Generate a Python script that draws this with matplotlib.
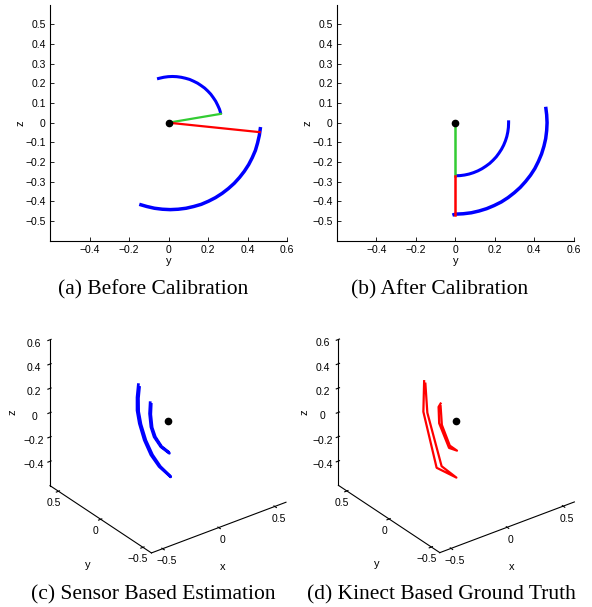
import numpy as np
import matplotlib
matplotlib.use("Agg")
import matplotlib.pyplot as plt
from mpl_toolkits.mplot3d import Axes3D  # noqa: F401

plt.rcParams["font.family"] = ["Liberation Sans", "DejaVu Sans"]

# (a) before calibration, (y, z) points
a_arc1_y = [-0.058, -0.046, -0.024, -0.002, 0.020, 0.042, 0.064, 0.086, 0.107, 0.127, 0.147,
            0.165, 0.183, 0.199, 0.214, 0.227, 0.239, 0.249, 0.258, 0.262, 0.265]
a_arc1_z = [0.223, 0.226, 0.231, 0.234, 0.235, 0.234, 0.231, 0.226, 0.220, 0.211, 0.201,
            0.189, 0.176, 0.161, 0.145, 0.127, 0.109, 0.089, 0.069, 0.056, 0.043]
a_arc2_y = [0.466, 0.460, 0.451, 0.440, 0.424, 0.406, 0.384, 0.360, 0.333, 0.303, 0.272,
            0.238, 0.203, 0.166, 0.128, 0.089, 0.049, 0.009, -0.031, -0.071, -0.110, -0.148]
a_arc2_z = [-0.022, -0.064, -0.103, -0.141, -0.178, -0.213, -0.247, -0.278, -0.308, -0.335, -0.359,
            -0.381, -0.399, -0.415, -0.426, -0.435, -0.440, -0.442, -0.440, -0.435, -0.426, -0.415]
a_green = ([0.0, 0.265], [0.0, 0.045])
a_red = ([0.0, 0.462], [0.0, -0.048])

# (b) after calibration
b_arc1_y = [0.0, 0.024, 0.047, 0.070, 0.092, 0.114, 0.135, 0.155, 0.174, 0.191, 0.207,
            0.221, 0.234, 0.245, 0.254, 0.261, 0.266, 0.269, 0.270, 0.270]
b_arc1_z = [-0.270, -0.269, -0.266, -0.261, -0.254, -0.245, -0.234, -0.221, -0.207, -0.191, -0.174,
            -0.155, -0.135, -0.114, -0.092, -0.070, -0.047, -0.024, 0.0, 0.012]
b_arc2_y = [-0.015, 0.0, 0.040, 0.081, 0.120, 0.159, 0.197, 0.233, 0.267, 0.299, 0.329, 0.356,
            0.381, 0.403, 0.421, 0.437, 0.449, 0.458, 0.463, 0.465, 0.463, 0.458]
b_arc2_z = [-0.470, -0.465, -0.463, -0.458, -0.449, -0.437, -0.421, -0.403, -0.381, -0.356, -0.329, -0.299,
            -0.267, -0.233, -0.197, -0.159, -0.120, -0.081, -0.040, 0.0, 0.040, 0.081]
b_green = ([0.0, 0.0], [0.0, -0.270])
b_red = ([0.0, 0.0], [-0.270, -0.470])

# (c) sensor based estimation, 3D (y, z) at x = 0, out and back passes
c_outer_y = [0.351, 0.366, 0.366, 0.339, 0.281, 0.202, 0.105, -0.032,
             -0.022, 0.090, 0.184, 0.262, 0.320, 0.348, 0.350, 0.338]
c_outer_z = [0.137, 0.026, -0.082, -0.177, -0.286, -0.372, -0.423, -0.445,
             -0.440, -0.416, -0.363, -0.280, -0.175, -0.082, 0.026, 0.120]
c_inner_y = [0.211, 0.218, 0.202, 0.164, 0.085, -0.016,
             -0.008, 0.076, 0.150, 0.188, 0.204, 0.199]
c_inner_z = [0.053, -0.040, -0.142, -0.206, -0.251, -0.258,
             -0.252, -0.245, -0.200, -0.140, -0.040, 0.045]

# (d) kinect based ground truth
d_outer_y = [0.382, 0.391, 0.234, 0.000, 0.175, 0.344, 0.367]
d_outer_z = [0.149, -0.107, -0.495, -0.468, -0.455, -0.093, 0.135]
d_inner_y = [0.187, 0.211, 0.204, 0.087, -0.007, 0.078, 0.172, 0.187]
d_inner_z = [0.055, 0.016, -0.115, -0.264, -0.243, -0.241, -0.114, 0.033]

captions = ["(a) Before Calibration", "(b) After Calibration",
            "(c) Sensor Based Estimation", "(d) Kinect Based Ground Truth"]

BLUE = "#0000ff"
GREEN = "#33cc33"
RED = "#ff0000"
TICK_FS = 7.5
W, H = 592, 607


def minus(vals):
  return [("%g" % v).replace("-", "\u2212") for v in vals]


def style_2d(ax):
  ax.set_xlim(-0.6, 0.6)
  ax.set_ylim(-0.6, 0.6)
  yt = [-0.4, -0.2, 0, 0.2, 0.4, 0.6]
  ax.set_xticks(yt)
  ax.set_xticklabels(minus(yt))
  zt = [-0.5, -0.4, -0.3, -0.2, -0.1, 0, 0.1, 0.2, 0.3, 0.4, 0.5]
  ax.set_yticks(zt)
  ax.set_yticklabels(minus(zt))
  ax.spines["top"].set_visible(False)
  ax.spines["right"].set_visible(False)
  for s in ("left", "bottom"):
    ax.spines[s].set_linewidth(0.8)
  ax.tick_params(direction="in", length=3, width=0.6, labelsize=TICK_FS, pad=3)
  ax.set_xlabel("y", fontsize=TICK_FS + 0.5, labelpad=1)
  ax.set_ylabel("z", fontsize=TICK_FS + 0.5, labelpad=0)


def style_3d(ax):
  ax.set_proj_type("ortho")
  ax.set_xlim(-0.6, 0.6)
  ax.set_ylim(-0.6, 0.6)
  ax.set_zlim(-0.6, 0.6)
  ax.set_box_aspect((1, 1, 1), zoom=0.957)
  ax.view_init(elev=30, azim=-127)
  ax.grid(False)
  for axis in (ax.xaxis, ax.yaxis, ax.zaxis):
    axis.pane.fill = False
    axis.pane.set_edgecolor((1, 1, 1, 0))
    axis.line.set_color("black")
    axis.line.set_linewidth(0.8)
  xt = [-0.5, 0, 0.5]
  zt = [-0.4, -0.2, 0, 0.2, 0.4, 0.6]
  ax.set_xticks(xt)
  ax.set_xticklabels(minus(xt))
  ax.set_yticks(xt)
  ax.set_yticklabels(minus(xt))
  ax.set_zticks(zt)
  ax.set_zticklabels(minus(zt))
  ax.tick_params(axis="x", labelsize=TICK_FS, pad=-4)
  ax.tick_params(axis="y", labelsize=TICK_FS, pad=-4)
  ax.tick_params(axis="z", labelsize=TICK_FS, pad=-0.5)


def label_3d(x_pos, y_pos, z_pos):
  lab = dict(fontsize=TICK_FS + 0.5, ha="center", va="center")
  fig.text(x_pos[0] / W, 1 - x_pos[1] / H, "x", **lab)
  fig.text(y_pos[0] / W, 1 - y_pos[1] / H, "y", **lab)
  fig.text(z_pos[0] / W, 1 - z_pos[1] / H, "z", rotation=90, **lab)


fig = plt.figure(figsize=(W / 100, H / 100), dpi=100)

# top row: 2D views
ax_a = fig.add_axes([50 / W, 1 - 240.7 / H, 237 / W, 236 / H])
ax_a.plot(a_arc1_y, a_arc1_z, color=BLUE, lw=2.2, solid_capstyle="butt")
ax_a.plot(a_arc2_y, a_arc2_z, color=BLUE, lw=2.5, solid_capstyle="butt")
ax_a.plot(*a_green, color=GREEN, lw=1.6)
ax_a.plot(*a_red, color=RED, lw=1.6)
ax_a.plot([0], [0], "o", color="black", ms=4.5)
style_2d(ax_a)

ax_b = fig.add_axes([337 / W, 1 - 240.7 / H, 236.7 / W, 236 / H])
ax_b.plot(b_arc1_y, b_arc1_z, color=BLUE, lw=2.2, solid_capstyle="butt")
ax_b.plot(b_arc2_y, b_arc2_z, color=BLUE, lw=2.5, solid_capstyle="butt")
ax_b.plot(*b_green, color=GREEN, lw=1.8)
ax_b.plot(*b_red, color=RED, lw=1.8)
ax_b.plot([0], [0], "o", color="black", ms=4.5)
style_2d(ax_b)

# bottom row: 3D views
ax_c = fig.add_axes([164 / W - 0.25, 1 - 425 / H - 0.25, 0.5, 0.5], projection="3d")
ax_c.plot(np.zeros(len(c_outer_y)), c_outer_y, c_outer_z, color=BLUE, lw=2.0)
ax_c.plot(np.zeros(len(c_inner_y)), c_inner_y, c_inner_z, color=BLUE, lw=2.0)
ax_c.plot([0], [0], [0], "o", color="black", ms=4.5)
style_3d(ax_c)
label_3d((223, 567), (88, 565), (13, 412))

ax_d = fig.add_axes([452.4 / W - 0.25, 1 - 424.7 / H - 0.25, 0.5, 0.5], projection="3d")
ax_d.plot(np.zeros(len(d_outer_y)), d_outer_y, d_outer_z, color=RED, lw=1.6)
ax_d.plot(np.zeros(len(d_inner_y)), d_inner_y, d_inner_z, color=RED, lw=1.6)
ax_d.plot([0], [0], [0], "o", color="black", ms=4.5)
style_3d(ax_d)
label_3d((512, 567), (377, 564), (304, 412))

cap_font = dict(family="Liberation Serif", fontsize=15.5, ha="center", va="center")
fig.text(153 / W, 1 - 290 / H, captions[0], **cap_font)
fig.text(440 / W, 1 - 290 / H, captions[1], **cap_font)
fig.text(153 / W, 1 - 595 / H, captions[2], **cap_font)
fig.text(441 / W, 1 - 595 / H, captions[3], **cap_font)

fig.savefig("out.png", dpi=100)
